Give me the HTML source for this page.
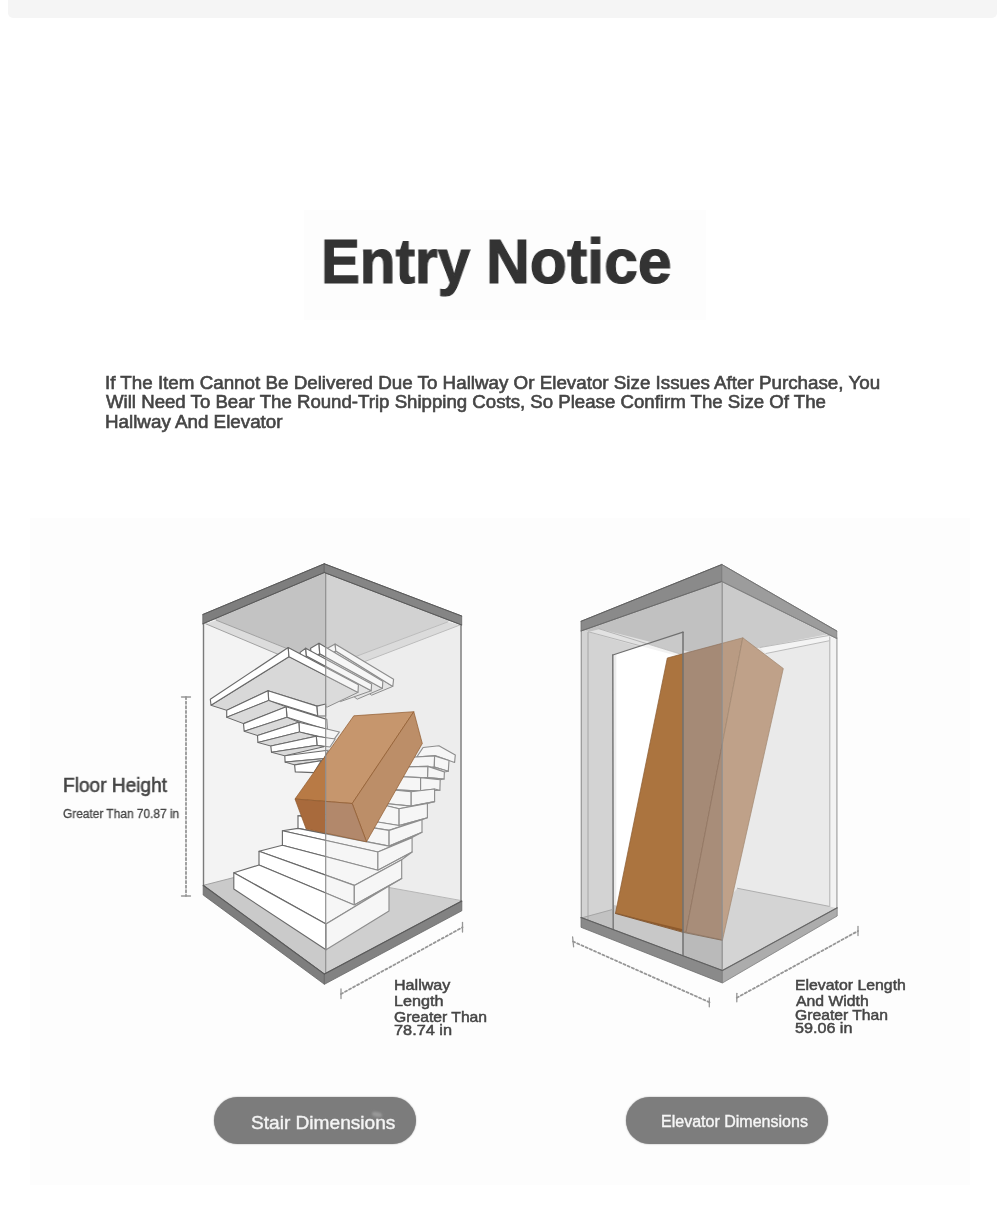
<!DOCTYPE html>
<html lang="en"><head><meta charset="utf-8"><title>Entry Notice</title>
<style>
html,body{margin:0;padding:0;background:#fff;}
body{width:1000px;height:1215px;overflow:hidden;font-family:"Liberation Sans",sans-serif;}
.page{position:relative;width:1000px;height:1215px;background:#fff;overflow:hidden;}
.topbar{position:absolute;left:8px;top:0;width:989px;height:18px;background:#f5f5f5;border-radius:0 0 5px 5px;}
.tbg{position:absolute;left:304px;top:210px;width:402px;height:110px;background:#fdfdfd;}
.panel{position:absolute;left:30px;top:518px;width:940px;height:667px;background:#fdfdfd;}
.art{position:absolute;left:0;top:0;}
.t{will-change:transform;position:absolute;white-space:nowrap;line-height:1;margin:0;padding:0;transform-origin:0 0;}
.btn{position:absolute;top:1096.5px;height:47.5px;width:202px;border-radius:24px;background:#7c7c7c;box-shadow:0 0 1.5px #8a8a8a;}
.smudge{position:absolute;left:372px;top:1111.5px;width:10px;height:4.5px;border-radius:50%;background:#9a9a9a;filter:blur(0.8px);transform:rotate(12deg);}

</style></head>
<body>
<div class="page">
<div class="topbar"></div>
<div class="tbg"></div>
<div class="panel"></div>
<svg class="art" width="1000" height="1215" viewBox="0 0 1000 1215">
<g id="stairs">
<polygon points="324.3,572.5 202.8,623.8 203.2,885.3 324.4,974.0 461.8,901.0 461.7,625.0" fill="#f3f3f3" />
<polygon points="325.7,571.0 214.0,619.0 216.2,620.2 325.7,664.1" fill="#c3c3c3" />
<polygon points="325.7,571.0 450.0,620.0 447.5,622.0 330.5,666.0 325.7,664.1" fill="#cccccc" />
<polygon points="205.7,623.8 216.2,620.2 325.7,664.1 325.7,674.4" fill="#dcdcdc" />
<polygon points="447.5,622.0 460.0,625.0 335.0,673.0 330.5,666.0" fill="#d9d9d9" />
<line x1="216.2" y1="620.2" x2="325.7" y2="664.1" stroke="#9a9a9a" stroke-width="0.9" stroke-linecap="round" />
<line x1="205.7" y1="623.8" x2="325.7" y2="674.4" stroke="#9a9a9a" stroke-width="0.9" stroke-linecap="round" />
<line x1="447.5" y1="622.0" x2="330.5" y2="666.0" stroke="#a6a6a6" stroke-width="0.9" stroke-linecap="round" />
<line x1="460.0" y1="625.0" x2="335.0" y2="673.0" stroke="#a6a6a6" stroke-width="0.9" stroke-linecap="round" />
<polygon points="203.2,885.3 234.0,877.5 260.0,895.0 325.7,940.0 325.7,974.0" fill="#cacaca" />
<polygon points="325.7,974.0 325.7,930.0 389.0,887.5 461.8,901.0" fill="#c8c8c8" />
<line x1="389.0" y1="887.5" x2="461.0" y2="900.5" stroke="#9c9c9c" stroke-width="0.9" stroke-linecap="round" />
<line x1="203.5" y1="885.3" x2="234.0" y2="877.5" stroke="#9c9c9c" stroke-width="0.9" stroke-linecap="round" />
<polygon points="335.8,651.0 392.8,686.4 371.6,695.2 330.0,664.0" fill="#e6e6e6" stroke="#6a6a6a" stroke-width="1.0" stroke-linejoin="round" />
<polygon points="327.4,648.2 335.1,644.0 335.8,651.0 328.0,655.5" fill="#ffffff" stroke="#6a6a6a" stroke-width="1.15" stroke-linejoin="round" />
<polygon points="335.1,644.0 393.6,679.2 392.8,686.4 335.8,651.0" fill="#ffffff" stroke="#6a6a6a" stroke-width="1.15" stroke-linejoin="round" />
<polygon points="319.7,653.8 382.4,688.4 357.2,699.2 318.0,668.0" fill="#e6e6e6" stroke="#6a6a6a" stroke-width="1.0" stroke-linejoin="round" />
<polygon points="310.6,648.2 319.0,643.3 319.7,653.8 311.3,658.0" fill="#ffffff" stroke="#6a6a6a" stroke-width="1.15" stroke-linejoin="round" />
<polygon points="319.0,643.3 382.8,681.2 382.4,688.4 319.7,653.8" fill="#ffffff" stroke="#6a6a6a" stroke-width="1.15" stroke-linejoin="round" />
<polygon points="306.4,655.9 371.2,690.8 340.4,701.6 305.0,672.0" fill="#e6e6e6" stroke="#6a6a6a" stroke-width="1.0" stroke-linejoin="round" />
<polygon points="300.1,652.4 305.7,648.2 306.4,655.9 300.8,660.0" fill="#ffffff" stroke="#6a6a6a" stroke-width="1.15" stroke-linejoin="round" />
<polygon points="305.7,648.2 371.6,684.0 371.2,690.8 306.4,655.9" fill="#ffffff" stroke="#6a6a6a" stroke-width="1.15" stroke-linejoin="round" />
<polygon points="211.0,705.3 289.0,656.6 358.0,692.4 327.4,707.0 317.0,706.1 268.0,690.7 226.7,710.3" fill="#d8d8d8" stroke="#6a6a6a" stroke-width="1.0" stroke-linejoin="round" />
<polygon points="210.3,699.3 288.2,647.5 289.0,656.7 211.0,705.3" fill="#ffffff" stroke="#6a6a6a" stroke-width="1.15" stroke-linejoin="round" />
<polygon points="288.2,647.5 358.4,684.8 358.0,692.4 289.0,656.7" fill="#ffffff" stroke="#6a6a6a" stroke-width="1.15" stroke-linejoin="round" />
<polygon points="268.0,690.7 317.0,706.1 317.7,715.9 268.7,700.5" fill="#ffffff" stroke="#6a6a6a" stroke-width="1.15" stroke-linejoin="round" />
<polygon points="317.0,706.1 325.7,704.0 325.7,716.0 317.7,715.9" fill="#f4f4f4" stroke="#6a6a6a" stroke-width="1.15" stroke-linejoin="round" />
<polygon points="226.7,710.3 268.0,690.7 268.7,700.5 226.7,717.3" fill="#ffffff" stroke="#6a6a6a" stroke-width="1.15" stroke-linejoin="round" />
<polygon points="226.7,717.3 243.5,723.6 286.2,706.8 268.7,700.5" fill="#dadada" stroke="#6a6a6a" stroke-width="1.0" stroke-linejoin="round" />
<polygon points="286.2,706.8 326.8,719.4 327.5,729.9 286.9,717.3" fill="#ffffff" stroke="#6a6a6a" stroke-width="1.15" stroke-linejoin="round" />
<polygon points="243.5,723.6 286.2,706.8 286.9,717.3 244.2,731.3" fill="#ffffff" stroke="#6a6a6a" stroke-width="1.15" stroke-linejoin="round" />
<polygon points="244.2,731.3 257.5,735.5 298.8,722.2 286.9,717.3" fill="#dadada" stroke="#6a6a6a" stroke-width="1.0" stroke-linejoin="round" />
<polygon points="298.8,722.2 339.4,732.0 333.8,739.7 299.5,732.0" fill="#ffffff" stroke="#6a6a6a" stroke-width="1.15" stroke-linejoin="round" />
<polygon points="257.5,735.5 298.8,722.2 299.5,732.0 257.9,742.5" fill="#ffffff" stroke="#6a6a6a" stroke-width="1.15" stroke-linejoin="round" />
<polygon points="257.9,742.5 270.8,746.0 316.3,736.2 299.5,732.0" fill="#dadada" stroke="#6a6a6a" stroke-width="1.0" stroke-linejoin="round" />
<polygon points="316.3,736.2 335.2,739.0 330.0,747.0 317.0,745.3" fill="#ffffff" stroke="#6a6a6a" stroke-width="1.15" stroke-linejoin="round" />
<polygon points="270.8,746.0 316.3,736.2 317.0,745.3 271.5,752.3" fill="#ffffff" stroke="#6a6a6a" stroke-width="1.15" stroke-linejoin="round" />
<polygon points="271.5,752.3 284.8,755.8 324.0,746.7 317.0,745.3" fill="#dadada" stroke="#6a6a6a" stroke-width="1.0" stroke-linejoin="round" />
<polygon points="284.8,755.8 328.2,750.2 324.0,758.6 285.1,762.1" fill="#ffffff" stroke="#6a6a6a" stroke-width="1.15" stroke-linejoin="round" />
<polygon points="285.1,762.1 294.6,764.9 321.2,760.7 324.0,758.6" fill="#dadada" stroke="#6a6a6a" stroke-width="1.0" stroke-linejoin="round" />
<polygon points="294.6,764.9 321.2,760.7 314.0,772.6 295.3,771.9" fill="#ffffff" stroke="#6a6a6a" stroke-width="1.15" stroke-linejoin="round" />
<polygon points="423.1,747.5 438.9,745.8 455.3,754.9 454.6,762.5 435.0,755.5 416.8,757.0" fill="#ffffff" stroke="#6a6a6a" stroke-width="1.15" stroke-linejoin="round" />
<polygon points="385.0,758.8 434.6,755.9 434.3,767.1 385.0,770.0" fill="#ffffff" stroke="#6a6a6a" stroke-width="1.15" stroke-linejoin="round" />
<polygon points="434.6,755.9 449.0,760.5 448.3,771.3 434.3,767.1" fill="#ffffff" stroke="#6a6a6a" stroke-width="1.15" stroke-linejoin="round" />
<polygon points="375.0,767.6 428.0,766.4 444.4,772.0 448.3,771.3 434.3,767.1 385.0,770.0" fill="#ffffff" stroke="#6a6a6a" stroke-width="1.15" stroke-linejoin="round" />
<polygon points="375.0,767.6 428.0,766.4 427.6,777.6 375.0,778.8" fill="#ffffff" stroke="#6a6a6a" stroke-width="1.15" stroke-linejoin="round" />
<polygon points="428.0,766.4 444.4,772.0 444.1,779.0 427.6,777.6" fill="#ffffff" stroke="#6a6a6a" stroke-width="1.15" stroke-linejoin="round" />
<polygon points="365.0,775.0 420.6,777.6 440.2,779.7 444.1,779.0 427.6,777.6 375.0,778.8" fill="#ffffff" stroke="#6a6a6a" stroke-width="1.15" stroke-linejoin="round" />
<polygon points="365.0,775.0 420.6,777.6 420.6,791.0 365.0,788.4" fill="#ffffff" stroke="#6a6a6a" stroke-width="1.15" stroke-linejoin="round" />
<polygon points="420.6,777.6 440.2,779.7 439.9,790.2 420.6,791.0" fill="#ffffff" stroke="#6a6a6a" stroke-width="1.15" stroke-linejoin="round" />
<polygon points="350.0,785.6 411.2,791.7 434.6,789.0 439.9,790.2 420.6,791.0 365.0,788.4" fill="#ffffff" stroke="#6a6a6a" stroke-width="1.15" stroke-linejoin="round" />
<polygon points="350.0,785.6 411.2,791.7 411.2,806.1 350.0,800.0" fill="#ffffff" stroke="#6a6a6a" stroke-width="1.15" stroke-linejoin="round" />
<polygon points="411.2,791.7 434.6,789.0 434.6,801.6 411.2,806.1" fill="#ffffff" stroke="#6a6a6a" stroke-width="1.15" stroke-linejoin="round" />
<polygon points="330.0,792.2 399.1,808.8 427.4,803.4 434.6,801.6 411.2,806.1 350.0,800.0" fill="#ffffff" stroke="#6a6a6a" stroke-width="1.15" stroke-linejoin="round" />
<polygon points="330.0,792.2 399.1,808.8 399.1,825.5 330.0,814.2" fill="#ffffff" stroke="#6a6a6a" stroke-width="1.15" stroke-linejoin="round" />
<polygon points="399.1,808.8 427.4,803.4 427.4,817.8 399.1,825.5" fill="#ffffff" stroke="#6a6a6a" stroke-width="1.15" stroke-linejoin="round" />
<polygon points="298.0,815.8 389.1,830.4 422.0,819.6 427.4,817.8 399.1,825.5 330.0,814.2" fill="#ffffff" stroke="#6a6a6a" stroke-width="1.15" stroke-linejoin="round" />
<polygon points="298.0,815.8 389.1,830.4 389.1,846.1 298.0,828.4" fill="#ffffff" stroke="#6a6a6a" stroke-width="1.15" stroke-linejoin="round" />
<polygon points="389.1,830.4 422.0,819.6 422.0,832.2 389.1,846.1" fill="#ffffff" stroke="#6a6a6a" stroke-width="1.15" stroke-linejoin="round" />
<polygon points="282.4,830.8 377.9,852.0 412.1,837.6 422.0,832.2 389.1,846.1 298.0,828.4" fill="#ffffff" stroke="#6a6a6a" stroke-width="1.15" stroke-linejoin="round" />
<polygon points="282.4,830.8 377.9,852.0 377.9,870.3 282.4,845.2" fill="#ffffff" stroke="#6a6a6a" stroke-width="1.15" stroke-linejoin="round" />
<polygon points="377.9,852.0 412.1,837.6 412.1,852.0 377.9,870.3" fill="#ffffff" stroke="#6a6a6a" stroke-width="1.15" stroke-linejoin="round" />
<polygon points="259.0,851.2 354.3,885.4 401.7,859.8 412.1,852.0 377.9,870.3 282.4,845.2" fill="#ffffff" stroke="#6a6a6a" stroke-width="1.15" stroke-linejoin="round" />
<polygon points="259.0,851.2 354.3,885.4 354.3,905.0 259.0,865.0" fill="#ffffff" stroke="#6a6a6a" stroke-width="1.15" stroke-linejoin="round" />
<polygon points="354.3,885.4 401.7,859.8 401.7,878.6 354.3,905.0" fill="#ffffff" stroke="#6a6a6a" stroke-width="1.15" stroke-linejoin="round" />
<polygon points="233.8,872.8 326.0,924.0 389.0,886.0 401.7,878.6 354.3,905.0 259.0,865.0" fill="#ffffff" stroke="#6a6a6a" stroke-width="1.15" stroke-linejoin="round" />
<polygon points="233.8,872.8 326.0,924.0 326.0,949.8 233.8,889.0" fill="#ffffff" stroke="#6a6a6a" stroke-width="1.15" stroke-linejoin="round" />
<polygon points="326.0,924.0 389.0,886.0 389.0,911.0 326.0,949.8" fill="#ffffff" stroke="#6a6a6a" stroke-width="1.15" stroke-linejoin="round" />
<polygon points="325.7,572.0 461.7,625.0 461.8,901.0 325.7,974.0" fill="#e0e0e0" fill-opacity="0.3"/>
<clipPath id="sl"><rect x="190" y="540" width="135.7" height="470"/></clipPath>
<clipPath id="sr"><rect x="325.7" y="540" width="160" height="470"/></clipPath>
<g clip-path="url(#sl)">
<polygon points="295.0,799.0 353.8,715.8 413.8,711.7 352.2,803.5" fill="#b87a45" stroke="#8f5a2e" stroke-width="0.7" stroke-linejoin="round" />
<polygon points="413.8,711.7 422.3,743.5 366.5,841.8 352.2,803.5" fill="#b0713f" stroke="#8f5a2e" stroke-width="0.7" stroke-linejoin="round" />
<polygon points="295.0,799.0 352.2,803.5 366.5,841.8 306.2,829.0" fill="#a86a3c" stroke="#8f5a2e" stroke-width="0.7" stroke-linejoin="round" />
</g>
<g clip-path="url(#sr)">
<polygon points="295.0,799.0 353.8,715.8 413.8,711.7 352.2,803.5" fill="#c6966d" stroke="#8f5a2e" stroke-width="0.7" stroke-linejoin="round" />
<polygon points="413.8,711.7 422.3,743.5 366.5,841.8 352.2,803.5" fill="#bc8e68" stroke="#8f5a2e" stroke-width="0.7" stroke-linejoin="round" />
<polygon points="295.0,799.0 352.2,803.5 366.5,841.8 306.2,829.0" fill="#b2886b" stroke="#8f5a2e" stroke-width="0.7" stroke-linejoin="round" />
</g>
<line x1="203.5" y1="623.0" x2="203.5" y2="886.0" stroke="#7a7a7a" stroke-width="1.4" stroke-linecap="round" />
<line x1="461.0" y1="625.0" x2="461.0" y2="902.0" stroke="#7a7a7a" stroke-width="1.4" stroke-linecap="round" />
<line x1="325.7" y1="573.0" x2="325.7" y2="975.0" stroke="#8c8c8c" stroke-width="1.15" stroke-linecap="round" />
<polygon points="324.3,563.8 202.8,614.5 202.8,623.8 324.3,572.5" fill="#7e7e7e" stroke="#666666" stroke-width="0.8" stroke-linejoin="round" />
<polygon points="324.3,563.8 461.7,616.0 461.7,625.0 324.3,572.5" fill="#858585" stroke="#666666" stroke-width="0.8" stroke-linejoin="round" />
<polygon points="203.2,885.3 324.4,974.0 324.4,984.3 203.2,895.0" fill="#7e7e7e" stroke="#666666" stroke-width="0.8" stroke-linejoin="round" />
<polygon points="461.8,901.0 324.4,974.0 324.4,984.3 461.8,910.8" fill="#828282" stroke="#666666" stroke-width="0.8" stroke-linejoin="round" />
<line x1="324.3" y1="563.8" x2="202.8" y2="614.5" stroke="#5a5a5a" stroke-width="1.0" stroke-linecap="round" />
<line x1="324.3" y1="563.8" x2="461.7" y2="616.0" stroke="#5a5a5a" stroke-width="1.0" stroke-linecap="round" />
<line x1="324.3" y1="572.5" x2="202.8" y2="623.8" stroke="#5a5a5a" stroke-width="1.0" stroke-linecap="round" />
<line x1="324.3" y1="572.5" x2="461.7" y2="625.0" stroke="#5a5a5a" stroke-width="1.0" stroke-linecap="round" />
<line x1="203.2" y1="885.3" x2="324.4" y2="974.0" stroke="#5a5a5a" stroke-width="1.1" stroke-linecap="round" />
<line x1="461.8" y1="901.0" x2="324.4" y2="974.0" stroke="#5a5a5a" stroke-width="1.1" stroke-linecap="round" />
<line x1="186.0" y1="697.0" x2="186.0" y2="896.0" stroke="#969696" stroke-width="1.8" stroke-linecap="round" stroke-dasharray="2.2 2.4" stroke-linecap="butt"/>
<line x1="181.5" y1="697.0" x2="190.5" y2="697.0" stroke="#969696" stroke-width="1.3" stroke-linecap="round" />
<line x1="181.5" y1="896.0" x2="190.5" y2="896.0" stroke="#969696" stroke-width="1.3" stroke-linecap="round" />
<line x1="341.0" y1="994.0" x2="462.5" y2="927.3" stroke="#969696" stroke-width="1.8" stroke-linecap="round" stroke-dasharray="2.2 2.4" stroke-linecap="butt"/>
<line x1="341.0" y1="989.0" x2="341.0" y2="998.5" stroke="#969696" stroke-width="1.3" stroke-linecap="round" />
<line x1="462.5" y1="922.5" x2="462.5" y2="932.0" stroke="#969696" stroke-width="1.3" stroke-linecap="round" />
</g>
<g id="elev">
<polygon points="721.8,581.5 836.8,638.5 837.2,907.8 722.4,970.5" fill="#eaeaea" />
<polygon points="721.8,581.5 581.0,631.0 581.0,917.5 722.4,970.5" fill="#d3d3d3" />
<polygon points="722.2,579.0 829.0,634.0 760.0,647.5 722.2,655.0" fill="#cbcbcb" />
<polygon points="722.2,579.0 583.0,629.5 600.0,634.0 722.2,668.0" fill="#c1c1c1" />
<polygon points="829.0,635.5 829.0,640.8 766.0,653.5 760.0,647.5" fill="#f4f4f4" />
<line x1="829.0" y1="635.5" x2="760.0" y2="647.5" stroke="#b4b4b4" stroke-width="0.9" stroke-linecap="round" />
<line x1="829.0" y1="640.8" x2="766.0" y2="653.5" stroke="#b4b4b4" stroke-width="0.9" stroke-linecap="round" />
<polygon points="737.5,888.3 829.0,906.3 837.0,908.0 722.2,970.5 722.2,905.0" fill="#d4d4d4" />
<line x1="737.5" y1="888.3" x2="829.0" y2="906.3" stroke="#a8a8a8" stroke-width="0.9" stroke-linecap="round" />
<polygon points="829.8,636.0 836.8,638.5 836.8,908.0 829.8,906.5" fill="#f3f3f3" />
<line x1="829.8" y1="637.0" x2="829.8" y2="906.5" stroke="#b2b2b2" stroke-width="1.0" stroke-linecap="round" />
<polygon points="588.0,632.0 600.0,629.0 690.0,652.0 674.0,657.0" fill="#e2e2e2" />
<line x1="599.0" y1="628.8" x2="647.2" y2="643.8" stroke="#a9a9a9" stroke-width="0.8" stroke-linecap="round" />
<line x1="588.5" y1="631.8" x2="640.6" y2="645.9" stroke="#a9a9a9" stroke-width="0.8" stroke-linecap="round" />
<polygon points="612.8,655.0 683.0,632.2 683.0,955.0 613.2,929.5" fill="#ffffff" />
<polygon points="612.8,655.0 616.3,654.0 616.3,930.5 613.2,929.5" fill="#ececec" />
<polygon points="647.2,643.8 683.0,632.2 683.0,654.9" fill="#c9c9c9" />
<polygon points="640.6,645.9 647.2,643.8 683.0,654.9 683.0,657.5" fill="#f3f3f3" />
<line x1="647.2" y1="643.8" x2="683.0" y2="654.9" stroke="#b8b8b8" stroke-width="0.8" stroke-linecap="round" />
<polygon points="582.0,917.5 612.5,909.5 612.5,929.0 582.0,918.0" fill="#c2c2c2" />
<polygon points="614.0,905.0 683.0,924.0 683.0,955.0 614.0,929.8" fill="#c8c8c8" />
<polygon points="683.0,924.0 722.2,932.0 722.2,970.5 683.0,955.0" fill="#bababa" />
<clipPath id="e1"><rect x="560" y="600" width="123" height="400"/></clipPath>
<clipPath id="e2"><rect x="683" y="600" width="39.2" height="400"/></clipPath>
<clipPath id="e3"><rect x="722.2" y="600" width="140" height="400"/></clipPath>
<g clip-path="url(#e1)">
<polygon points="667.3,658.0 742.8,637.8 686.0,932.2 615.5,913.0" fill="#ab743f" stroke="#8a5a30" stroke-width="0.7" stroke-linejoin="round" />
<polygon points="742.8,637.8 783.3,668.5 722.5,940.0 686.0,932.2" fill="#b07a46" stroke="#8a5a30" stroke-width="0.7" stroke-linejoin="round" />
</g>
<g clip-path="url(#e2)">
<polygon points="667.3,658.0 742.8,637.8 686.0,932.2 615.5,913.0" fill="#a58a76" stroke="#8f735f" stroke-width="0.7" stroke-linejoin="round" />
<polygon points="742.8,637.8 783.3,668.5 722.5,940.0 686.0,932.2" fill="#a88d79" stroke="#8f735f" stroke-width="0.7" stroke-linejoin="round" />
</g>
<g clip-path="url(#e3)">
<polygon points="667.3,658.0 742.8,637.8 686.0,932.2 615.5,913.0" fill="#b99b83" stroke="#a08670" stroke-width="0.7" stroke-linejoin="round" />
<polygon points="742.8,637.8 783.3,668.5 722.5,940.0 686.0,932.2" fill="#bfa189" stroke="#a08670" stroke-width="0.7" stroke-linejoin="round" />
</g>
<polygon points="615.5,913.0 683.0,931.8 683.0,929.3 645.0,920.3" fill="#8e5a2c" />
<line x1="615.5" y1="913.5" x2="683.0" y2="932.3" stroke="#7e5028" stroke-width="0.9" stroke-linecap="round" />
<line x1="683.0" y1="932.3" x2="722.3" y2="940.3" stroke="#86705f" stroke-width="0.9" stroke-linecap="round" />
<line x1="612.8" y1="655.0" x2="683.0" y2="632.2" stroke="#707070" stroke-width="1.3" stroke-linecap="round" />
<line x1="683.0" y1="632.2" x2="683.0" y2="955.0" stroke="#707070" stroke-width="1.5" stroke-linecap="round" />
<line x1="612.8" y1="655.0" x2="613.2" y2="929.5" stroke="#707070" stroke-width="1.4" stroke-linecap="round" />
<line x1="581.3" y1="631.0" x2="581.3" y2="918.0" stroke="#9a9a9a" stroke-width="1.3" stroke-linecap="round" />
<line x1="588.0" y1="632.5" x2="588.0" y2="919.5" stroke="#a6a6a6" stroke-width="1.0" stroke-linecap="round" />
<line x1="582.0" y1="917.8" x2="612.5" y2="909.5" stroke="#a0a0a0" stroke-width="0.9" stroke-linecap="round" />
<line x1="836.9" y1="638.0" x2="836.9" y2="908.0" stroke="#a8a8a8" stroke-width="1.3" stroke-linecap="round" />
<line x1="722.2" y1="581.0" x2="722.2" y2="971.0" stroke="#8e8e8e" stroke-width="1.2" stroke-linecap="round" />
<polygon points="721.8,564.5 581.0,621.3 581.0,631.0 721.8,581.5" fill="#8a8a8a" stroke="#6c6c6c" stroke-width="0.8" stroke-linejoin="round" />
<polygon points="721.8,564.5 836.8,631.0 836.8,638.5 721.8,581.5" fill="#9c9c9c" stroke="#7c7c7c" stroke-width="0.8" stroke-linejoin="round" />
<polygon points="581.0,917.5 722.4,970.5 722.4,983.0 581.0,927.3" fill="#8a8a8a" stroke="#6c6c6c" stroke-width="0.8" stroke-linejoin="round" />
<polygon points="837.2,907.8 722.4,970.5 722.4,983.0 837.2,916.0" fill="#acacac" stroke="#808080" stroke-width="0.8" stroke-linejoin="round" />
<line x1="721.8" y1="564.5" x2="581.0" y2="621.3" stroke="#606060" stroke-width="1.0" stroke-linecap="round" />
<line x1="721.8" y1="581.5" x2="581.0" y2="631.0" stroke="#6a6a6a" stroke-width="0.9" stroke-linecap="round" />
<line x1="721.8" y1="564.5" x2="836.8" y2="631.0" stroke="#757575" stroke-width="1.0" stroke-linecap="round" />
<line x1="721.8" y1="581.5" x2="836.8" y2="638.5" stroke="#808080" stroke-width="0.9" stroke-linecap="round" />
<line x1="581.0" y1="917.5" x2="722.4" y2="970.5" stroke="#606060" stroke-width="1.1" stroke-linecap="round" />
<line x1="837.2" y1="907.8" x2="722.4" y2="970.5" stroke="#666666" stroke-width="1.1" stroke-linecap="round" />
<line x1="573.0" y1="941.5" x2="709.5" y2="1002.3" stroke="#969696" stroke-width="1.8" stroke-linecap="round" stroke-dasharray="2.2 2.4" stroke-linecap="butt"/>
<line x1="572.6" y1="937.0" x2="573.6" y2="946.8" stroke="#969696" stroke-width="1.3" stroke-linecap="round" />
<line x1="709.3" y1="997.8" x2="709.3" y2="1006.8" stroke="#969696" stroke-width="1.3" stroke-linecap="round" />
<line x1="736.8" y1="997.8" x2="858.0" y2="931.0" stroke="#969696" stroke-width="1.8" stroke-linecap="round" stroke-dasharray="2.2 2.4" stroke-linecap="butt"/>
<line x1="736.8" y1="993.3" x2="736.8" y2="1001.8" stroke="#969696" stroke-width="1.3" stroke-linecap="round" />
<line x1="858.0" y1="926.5" x2="858.0" y2="935.5" stroke="#969696" stroke-width="1.3" stroke-linecap="round" />
</g>
</svg>
<div class="btn" style="left:214px"></div>
<div class="btn" style="left:625.5px;background:#7d7d7d"></div>
<div class="smudge"></div>
<div class="t" style="left:321.3px;top:230.0px;font-size:63.5px;font-weight:bold;color:#333333;-webkit-text-stroke:1.2px #333333;transform:scaleX(0.9184)">Entry</div>
<div class="t" style="left:486.0px;top:230.0px;font-size:63.5px;font-weight:bold;color:#333333;-webkit-text-stroke:1.2px #333333;transform:scaleX(0.9564)">Notice</div>
<div class="t" style="left:105.2px;top:373.5px;font-size:18.0px;font-weight:normal;color:#454545;-webkit-text-stroke:0.6px #454545;transform:scaleX(1.0436)">If The Item Cannot Be Delivered Due To Hallway Or Elevator Size Issues After Purchase, You</div>
<div class="t" style="left:106.0px;top:392.8px;font-size:18.0px;font-weight:normal;color:#454545;-webkit-text-stroke:0.6px #454545;transform:scaleX(1.0353)">Will Need To Bear The Round-Trip Shipping Costs, So Please Confirm The Size Of The</div>
<div class="t" style="left:105.2px;top:412.5px;font-size:18.0px;font-weight:normal;color:#454545;-webkit-text-stroke:0.6px #454545;transform:scaleX(1.0438)">Hallway And Elevator</div>
<div class="t" style="left:63.4px;top:776.0px;font-size:19.5px;font-weight:normal;color:#454545;-webkit-text-stroke:0.6px #454545;transform:scaleX(0.9791)">Floor Height</div>
<div class="t" style="left:63.0px;top:808.0px;font-size:12.5px;font-weight:normal;color:#454545;-webkit-text-stroke:0.3px #454545;transform:scaleX(0.9518)">Greater Than 70.87 in</div>
<div class="t" style="left:393.75px;top:976.5px;font-size:15.0px;font-weight:normal;color:#454545;-webkit-text-stroke:0.5px #454545;transform:scaleX(1.0722)">Hallway</div>
<div class="t" style="left:393.75px;top:992.75px;font-size:15.0px;font-weight:normal;color:#454545;-webkit-text-stroke:0.5px #454545;transform:scaleX(1.0787)">Length</div>
<div class="t" style="left:393.75px;top:1009.3px;font-size:15.0px;font-weight:normal;color:#454545;-webkit-text-stroke:0.5px #454545;transform:scaleX(1.0466)">Greater Than</div>
<div class="t" style="left:394.1px;top:1022.0px;font-size:15.0px;font-weight:normal;color:#454545;-webkit-text-stroke:0.5px #454545;transform:scaleX(1.0874)">78.74 in</div>
<div class="t" style="left:795.0px;top:976.5px;font-size:15.0px;font-weight:normal;color:#454545;-webkit-text-stroke:0.5px #454545;transform:scaleX(1.0549)">Elevator Length</div>
<div class="t" style="left:795.7px;top:993.1px;font-size:15.0px;font-weight:normal;color:#454545;-webkit-text-stroke:0.5px #454545;transform:scaleX(1.0508)">And Width</div>
<div class="t" style="left:795.0px;top:1007.0px;font-size:15.0px;font-weight:normal;color:#454545;-webkit-text-stroke:0.5px #454545;transform:scaleX(1.046)">Greater Than</div>
<div class="t" style="left:795.0px;top:1020.4px;font-size:15.0px;font-weight:normal;color:#454545;-webkit-text-stroke:0.5px #454545;transform:scaleX(1.0758)">59.06 in</div>
<div class="t" style="left:250.75px;top:1112.8px;font-size:19.0px;font-weight:normal;color:#f4f4f4;-webkit-text-stroke:0.4px #f4f4f4;transform:scaleX(1.0053)">Stair Dimensions</div>
<div class="t" style="left:661.4px;top:1114.1px;font-size:16.0px;font-weight:normal;color:#f6f6f6;-webkit-text-stroke:0.4px #f6f6f6;transform:scaleX(1.0014)">Elevator Dimensions</div>
</div>
</body></html>
